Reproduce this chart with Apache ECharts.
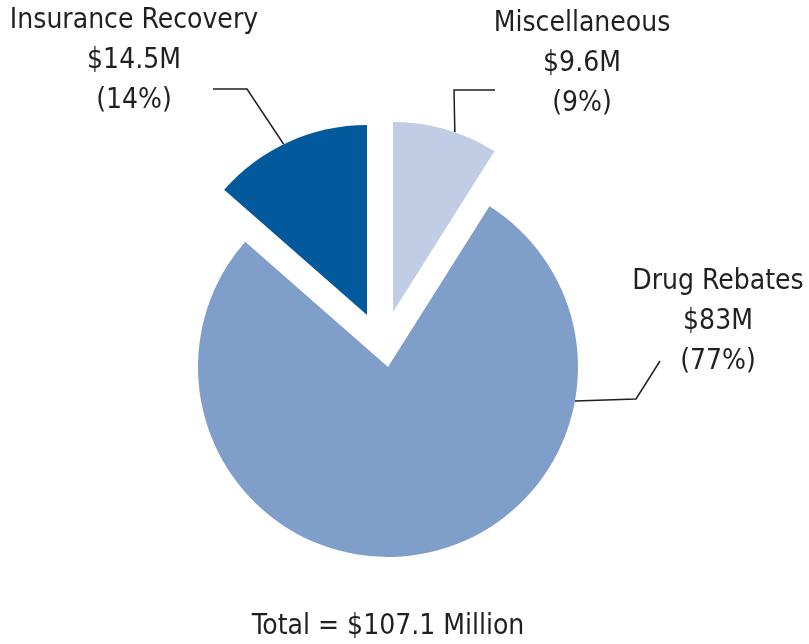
<!DOCTYPE html>
<html>
<head>
<meta charset="utf-8">
<script src="https://cdn.jsdelivr.net/npm/echarts@6/dist/echarts.min.js"></script>
<style>
  html, body { margin: 0; padding: 0; background: #fff; }
  #chart { width: 809px; height: 644px; }
</style>
</head>
<body>
<div id="chart"></div>
<script>
// Recoveries by source, in millions of dollars, clockwise from 12 o'clock
const categories = ['Miscellaneous', 'Drug Rebates', 'Insurance Recovery'];
const values = [9.6, 83, 14.5];

const palette = ['#c1cde4', '#7f9ec9', '#02599b'];
const FONT = "'DejaVu Sans Condensed', 'Liberation Sans Narrow', sans-serif";
const FONT_SIZE = 28;
const LINE_HEIGHT = 40;
const TEXT_COLOR = '#231f20';
const RADIUS = 190;

const total = values.reduce((a, b) => a + b, 0);

// Each slice is pulled out on its own, so each one gets its own pie center.
// label: center of the label block; anchorAngle: where the leader meets the arc;
// bend / end: the leader's elbow and its end beside the text.
const sliceLayout = [
  { center: [393, 312], label: [582, 64],  anchorAngle: 71,    bend: [454, 90],  end: [495, 90] },
  { center: [388, 367], label: [718, 322], anchorAngle: -10.3, bend: [636, 399], end: [660, 361] },
  { center: [367, 315], label: [134, 61],  anchorAngle: 116,   bend: [247, 89],  end: [213, 89] }
];

function arcPoint(center, angleDeg) {
  const a = angleDeg * Math.PI / 180;
  return [center[0] + RADIUS * Math.cos(a), center[1] - RADIUS * Math.sin(a)];
}

function sliceLabel(p) {
  const v = values[p.dataIndex];
  const pct = Math.round(v / total * 100);
  return p.name + '\n$' + v + 'M\n(' + pct + '%)';
}

const chart = echarts.init(document.getElementById('chart'), null, { renderer: 'canvas' });

chart.setOption({
  animation: false,
  backgroundColor: '#ffffff',
  title: {
    text: 'Total = $' + total.toFixed(1) + ' Million',
    left: 388,
    top: 608,
    padding: 0,
    textAlign: 'center',
    textStyle: { fontFamily: FONT, fontSize: FONT_SIZE, fontWeight: 'normal', color: TEXT_COLOR, lineHeight: 38 }
  },
  series: categories.map((_, k) => {
    const L = sliceLayout[k];
    return {
      type: 'pie',
      center: L.center,
      radius: RADIUS,
      startAngle: 90,
      clockwise: true,
      silent: true,
      avoidLabelOverlap: false,
      emphasis: { disabled: true },
      data: categories.map((name, i) => ({
        name: name,
        value: values[i],
        itemStyle: { color: i === k ? palette[i] : 'rgba(0,0,0,0)', borderWidth: 0 },
        label: { show: i === k },
        labelLine: { show: i === k }
      })),
      label: {
        position: 'outside',
        formatter: sliceLabel,
        fontFamily: FONT,
        fontSize: FONT_SIZE,
        lineHeight: LINE_HEIGHT,
        color: TEXT_COLOR,
        align: 'center'
      },
      labelLine: {
        show: true,
        lineStyle: { color: TEXT_COLOR, width: 1.5 }
      },
      labelLayout: function (p) {
        if (p.dataIndex !== k) return {};
        return {
          x: L.label[0],
          y: L.label[1],
          align: 'center',
          verticalAlign: 'middle',
          labelLinePoints: [arcPoint(L.center, L.anchorAngle), L.bend, L.end]
        };
      }
    };
  })
});
</script>
</body>
</html>
